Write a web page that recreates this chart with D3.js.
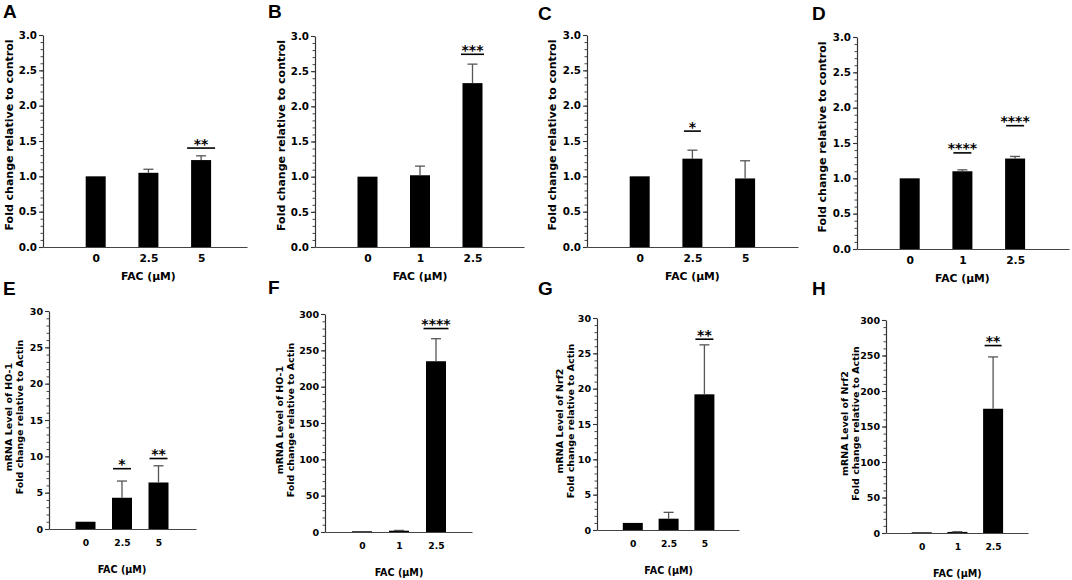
<!doctype html>
<html>
<head>
	<meta charset="UTF-8">
	<title>FAC fold change panels</title>
	<script src="https://d3js.org/d3.v7.min.js"></script>
	<style>
		body { margin: 0; background: #fff; }
		text { font-family: "DejaVu Sans", sans-serif; font-weight: bold; fill: #000; }
	</style>
</head>
<body>
	<script>
		// Data
		var panelLetters = ["A", "B", "C", "D", "E", "F", "G", "H"];
		var doseLabels = [
			["0", "2.5", "5"], ["0", "1", "2.5"], ["0", "2.5", "5"], ["0", "1", "2.5"],
			["0", "2.5", "5"], ["0", "1", "2.5"], ["0", "2.5", "5"], ["0", "1", "2.5"]
		];
		var means = [
			[1, 1.05, 1.23], [1, 1.02, 2.33], [1, 1.25, 0.97], [1, 1.10, 1.28],
			[1, 4.3, 6.4], [1, 1.8, 235], [1, 1.6, 19.2], [1, 1.5, 175]
		];
		// upper error (SD) above each mean
		var errors = [
			[0, 0.05, 0.06], [0, 0.13, 0.27], [0, 0.12, 0.25], [0, 0.02, 0.03],
			[0, 2.3, 2.3], [0, 0.4, 31], [0, 0.9, 7.0], [0, 0.3, 73]
		];
		var stars = [
			[null, null, "**"], [null, null, "***"], [null, "*", null], [null, "****", "****"],
			[null, "*", "**"], [null, null, "****"], [null, null, "**"], [null, null, "**"]
		];
		var starLevels = [
			[null, null, 1.40], [null, null, 2.74], [null, 1.64, null], [null, 1.36, 1.745],
			[null, 8.3, 9.7], [null, null, 280], [null, null, 27], [null, null, 264]
		];
		var yMaxes = [3, 3, 3, 3, 30, 300, 30, 300];
		var majorSteps = [0.5, 0.5, 0.5, 0.5, 5, 50, 5, 50];
		var minorSteps = [0.1, 0.1, 0.1, 0.1, 1, 10, 1, 10];
		var yTitles = [
			["Fold change relative to control"], ["Fold change relative to control"],
			["Fold change relative to control"], ["Fold change relative to control"],
			["mRNA Level of HO-1", "Fold change relative to Actin"],
			["mRNA Level of HO-1", "Fold change relative to Actin"],
			["mRNA Level of Nrf2", "Fold change relative to Actin"],
			["mRNA Level of Nrf2", "Fold change relative to Actin"]
		];
		var xTitle = "FAC (μM)";

		// Where each panel sits on the page
		var layout = [
			{x0: 43,  x1: 247,  slot: 52.7, yT: 35,  yB: 247, lx: 3,   ly: 18,  tOff: 30, sigW: 28},
			{x0: 315, x1: 524,  slot: 52.5, yT: 36,  yB: 247, lx: 268, ly: 18,  tOff: 30, sigW: 23},
			{x0: 587, x1: 798,  slot: 52.7, yT: 35,  yB: 247, lx: 538, ly: 20,  tOff: 31, sigW: 17},
			{x0: 857, x1: 1069, slot: 52.7, yT: 37,  yB: 249, lx: 812, ly: 20,  tOff: 31, sigW: 18},
			{x0: 49,  x1: 196,  slot: 36.5, yT: 311, yB: 529, lx: 3,   ly: 295, tOff: 37, sigW: 18},
			{x0: 325, x1: 472,  slot: 37,   yT: 314, yB: 532, lx: 268, ly: 294, tOff: 42, sigW: 25},
			{x0: 597, x1: 739,  slot: 35.8, yT: 318, yB: 530, lx: 538, ly: 295, tOff: 34, sigW: 18},
			{x0: 886, x1: 1028, slot: 35.7, yT: 320, yB: 533, lx: 812, ly: 295, tOff: 38, sigW: 17}
		];

		var svg = d3.select("body")
			.append("svg")
				.attr("width", 1072)
				.attr("height", 580);

		svg.append("rect").attr("width", 1072).attr("height", 580).attr("fill", "#fff");

		panelLetters.forEach(function(letter, p) {
			var L = layout[p];
			var top = p < 4;
			var g = svg.append("g");

			var x = d3.scaleLinear().domain([0, (L.x1 - L.x0) / L.slot]).range([L.x0, L.x1]);
			var y = d3.scaleLinear().domain([0, yMaxes[p]]).range([L.yB, L.yT]);

			var majors = d3.range(0, yMaxes[p] + 1e-9, majorSteps[p]);
			var minors = d3.range(0, yMaxes[p] + 1e-9, minorSteps[p]);
			var fmt = top ? d3.format(".1f") : d3.format("d");

			// panel letter
			g.append("text")
				.attr("x", L.lx)
				.attr("y", L.ly)
				.style("font-family", "'Liberation Sans', Arial, sans-serif")
				.style("font-size", "19px")
				.text(letter);

			// minor ticks
			g.append("g")
				.attr("transform", "translate(" + L.x0 + ",0)")
				.call(d3.axisLeft(y).tickValues(minors).tickSize(2.5).tickSizeOuter(0).tickFormat(""))
				.call(function(a) { a.select(".domain").remove(); })
				.selectAll("line").attr("stroke", "#333").attr("stroke-width", 0.9);

			// major ticks + labels
			var yAxis = g.append("g")
				.attr("transform", "translate(" + L.x0 + ",0)")
				.call(d3.axisLeft(y).tickValues(majors).tickSize(4).tickSizeOuter(0).tickPadding(2).tickFormat(fmt));
			yAxis.select(".domain").attr("stroke", "#333").attr("stroke-width", 1.2);
			yAxis.selectAll("line").attr("stroke", "#333").attr("stroke-width", 1.1);
			yAxis.selectAll("text")
				.attr("fill", "#000")
				.style("font-family", "'DejaVu Sans', sans-serif")
				.style("font-weight", "bold")
				.style("font-size", top ? "10.3px" : "9.5px");

			// x axis
			var xAxis = g.append("g")
				.attr("transform", "translate(0," + L.yB + ")")
				.call(d3.axisBottom(x).tickValues([1, 2, 3]).tickSize(0).tickSizeOuter(0)
					.tickPadding(top ? 7 : 10)
					.tickFormat(function(d) { return doseLabels[p][d - 1]; }));
			xAxis.select(".domain").attr("stroke", "#444").attr("stroke-width", 1.2);
			xAxis.selectAll("text")
				.attr("fill", "#000")
				.style("font-family", "'DejaVu Sans', sans-serif")
				.style("font-weight", "bold")
				.style("font-size", top ? "10.7px" : "9.2px");

			// x title
			g.append("text")
				.attr("x", x(2))
				.attr("y", L.yB + (top ? 33 : 44))
				.attr("text-anchor", "middle")
				.style("font-size", top ? "10.8px" : "9.6px")
				.text(xTitle);

			// y title
			var midY = (L.yT + L.yB) / 2 + (top ? -6 : -3);
			yTitles[p].forEach(function(line, k) {
				var off = top ? L.tOff : L.tOff - k * 11;
				g.append("text")
					.attr("transform", "translate(" + (L.x0 - off) + "," + midY + ") rotate(-90)")
					.attr("text-anchor", "middle")
					.style("font-size", top ? "11px" : "9.5px")
					.text(line);
			});

			var barW = 20;
			var idx = [0, 1, 2];

			// bars
			g.selectAll(".bar")
				.data(idx)
				.enter().append("rect")
					.attr("x", function(i) { return x(i + 1) - barW / 2; })
					.attr("y", function(i) { return y(means[p][i]); })
					.attr("width", barW)
					.attr("height", function(i) { return y(0) - y(means[p][i]); })
					.attr("fill", "#000");

			// error bars (upper only)
			idx.forEach(function(i) {
				var e = errors[p][i];
				if (!e) return;
				var cx = x(i + 1);
				g.append("line")
					.attr("x1", cx).attr("x2", cx)
					.attr("y1", y(means[p][i])).attr("y2", y(means[p][i] + e))
					.attr("stroke", "#555").attr("stroke-width", 1.3);
				g.append("line")
					.attr("x1", cx - 5).attr("x2", cx + 5)
					.attr("y1", y(means[p][i] + e)).attr("y2", y(means[p][i] + e))
					.attr("stroke", "#555").attr("stroke-width", 1.3);
			});

			// significance marks
			idx.forEach(function(i) {
				var s = stars[p][i];
				if (!s) return;
				var cx = x(i + 1);
				var ly = y(starLevels[p][i]);
				g.append("line")
					.attr("x1", cx - L.sigW / 2).attr("x2", cx + L.sigW / 2)
					.attr("y1", ly).attr("y2", ly)
					.attr("stroke", "#000").attr("stroke-width", 1.6);
				g.append("text")
					.attr("x", cx)
					.attr("y", ly + 0.5)
					.attr("text-anchor", "middle")
					.style("font-size", "14px")
					.text(s);
			});
		});
	</script>
</body>
</html>
